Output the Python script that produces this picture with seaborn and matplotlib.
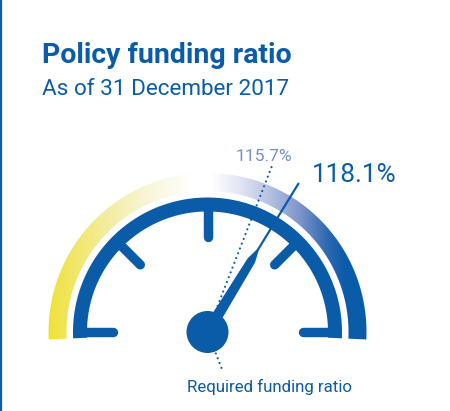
import numpy as np
import pandas as pd
import matplotlib
matplotlib.use("Agg")
import matplotlib.pyplot as plt
import seaborn as sns
from matplotlib.colors import LinearSegmentedColormap
from matplotlib.patches import Circle, Polygon

# ---- data ----
title = "Policy funding ratio"
subtitle = "As of 31 December 2017"
current_value = [118.1]
previous_value = [115.7]
value_labels = ["118.1%", "115.7%"]
required_label = "Required funding ratio"
gauge_min, gauge_max = 89.75, 131.75
tick_fracs = [0.0, 0.25, 0.5, 0.75, 1.0]

BLUE = "#0A5CA8"
LIGHT = "#7491CB"

sns.set_theme(style="white")
plt.rcParams["font.family"] = ["Roboto", "DejaVu Sans"]

W, H = 450, 411
fig = plt.figure(figsize=(4.5, 4.11), dpi=100)
ax = fig.add_axes([0, 0, 1, 1])
ax.set_xlim(0, W)
ax.set_ylim(H, 0)
ax.axis("off")

cx, cy = 207.5, 332.0


def pt(r, a):
    a = np.radians(a)
    return cx + r * np.cos(a), cy - r * np.sin(a)


def val2ang(v):
    return 180 - (v - gauge_min) / (gauge_max - gauge_min) * 180


def annulus(r0, r1, a0, a1, n=60):
    aa = np.linspace(a0, a1, n)
    xo, yo = pt(r1, aa)
    xi, yi = pt(r0, aa[::-1])
    return np.concatenate([xo, xi]), np.concatenate([yo, yi])


# gradient arc (horizontal gradient clipped to the annulus)
stops = [(48, "#EFE23A"), (75, "#F1E76A"), (110, "#F4EDA5"), (150, "#FAF6DA"),
         (192, "#FFFFFF"), (212, "#FFFFFF"), (240, "#E2E6F4"), (270, "#B5C1E2"),
         (300, "#7D95CB"), (328, "#2F67B1"), (345, "#0A5CA8"), (368, "#0A5CA8")]
x_lo, x_hi = stops[0][0], stops[-1][0]
cmap = LinearSegmentedColormap.from_list(
    "g", [((x - x_lo) / (x_hi - x_lo), c) for x, c in stops])
grad = np.linspace(0, 1, 512)[None, :]
xs, ys = annulus(141, 159, -2.7, 182.7, n=300)
clip = Polygon(np.column_stack([xs, ys]), closed=True, facecolor="none",
               edgecolor="none", transform=ax.transData)
ax.add_patch(clip)
im = ax.imshow(grad, cmap=cmap, extent=[x_lo, x_hi, cy + 8, cy - 161],
               aspect="auto", interpolation="bilinear")
im.set_clip_path(clip)

# blue arc
xs, ys = annulus(120.5, 134.5, -2.7, 182.7, n=200)
ax.fill(xs, ys, color=BLUE, lw=0)

# ticks
for f in tick_fracs:
    a = 180 - f * 180
    x0, y0 = pt(125, a)
    x1, y1 = pt(95, a)
    ax.plot([x0, x1], [y0, y1], color=BLUE, lw=6.8, solid_capstyle="round")

# previous value dotted line
ap = val2ang(previous_value[0])
xa, ya = pt(28, ap)
xb, yb = pt(177, ap)
dotted = pd.DataFrame({"x": [xa, xb], "y": [ya, yb]})
sns.lineplot(data=dotted, x="x", y="y", ax=ax, color=BLUE, lw=1.6,
             linestyle=(0, (0.01, 2.3)), dash_capstyle="round", sort=False)

# required pointer dotted line (below hub)
xa, ya = pt(23, -ap)
xb, yb = pt(42, -ap)
ax.plot([xa, xb], [ya, yb], color=BLUE, lw=1.6,
        linestyle=(0, (0.01, 2.3)), dash_capstyle="round")

# needle
an = val2ang(current_value[0])
u = np.array([np.cos(np.radians(an)), -np.sin(np.radians(an))])
nrm = np.array([u[1], -u[0]])
c0 = np.array([cx, cy])
prof = [(0, 11.5), (84, 8.5), (96, 2.2)]
left = [c0 + r * u + w / 2 * nrm for r, w in prof]
right = [c0 + r * u - w / 2 * nrm for r, w in prof[::-1]]
poly = np.array(left + right)
ax.fill(poly[:, 0], poly[:, 1], color=BLUE, lw=0)
xa, ya = pt(90, an)
xb, yb = pt(174, an)
needle = pd.DataFrame({"x": [xa, xb], "y": [ya, yb]})
sns.lineplot(data=needle, x="x", y="y", ax=ax, color=BLUE, lw=1.6, sort=False)

ax.add_patch(Circle((cx, cy), 21, color=BLUE, lw=0))

# left rule
ax.plot([1, 1], [0, H], color=BLUE, lw=1.6)

ax.set_xlim(0, W)
ax.set_ylim(H, 0)
ax.axis("off")

# texts
ax.text(42, 63, title, color=BLUE, fontsize=20.5, fontweight="bold",
        ha="left", va="baseline")
ax.text(42, 95, subtitle, color=BLUE, fontsize=16.2,
        ha="left", va="baseline")
ax.text(312, 181.7, value_labels[0], color=BLUE, fontsize=18.8,
        fontweight="normal", ha="left", va="baseline")
ax.text(236, 160.7, value_labels[1], color=LIGHT, fontsize=12.6,
        fontweight="normal", ha="left", va="baseline")
ax.text(187, 391.7, required_label, color=BLUE, fontsize=12.2,
        ha="left", va="baseline")

fig.savefig("out.png", dpi=100)
